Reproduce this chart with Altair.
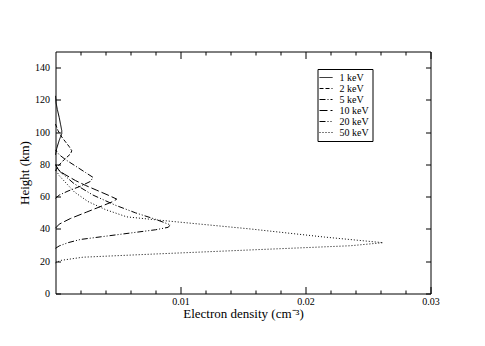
import altair as alt
import pandas as pd

series = ["1 keV", "2 keV", "5 keV", "10 keV", "20 keV", "50 keV"]
dashes = [[1, 0], [4, 2], [6, 2, 1, 2], [8, 3], [6, 2, 1, 2, 1, 2], [1, 2]]

dens_1 = [0, 0.0001, 0.0003, 0.0005, 0.0005, 0.0004, 0.0003, 0.00015, 0.00005, 0]
hgt_1 = [86, 90, 95, 99, 101, 105, 109, 114, 118, 122.5]

dens_2 = [0, 0.0002, 0.0007, 0.0012, 0.0013, 0.0011, 0.0008, 0.0005, 0.0002, 0]
hgt_2 = [76, 79, 83, 86.5, 88.5, 91, 94, 97, 101, 105]

dens_5 = [0, 0.0003, 0.0010, 0.0020, 0.0028, 0.0030, 0.0024, 0.0016, 0.0008, 0.0003, 0]
hgt_5 = [59, 61, 63.5, 66.5, 69.5, 72, 75, 79, 83, 86, 89]

dens_10 = [0, 0.0003, 0.0012, 0.0025, 0.0038, 0.0046, 0.0049, 0.0042, 0.0033, 0.0024, 0.0016, 0.0007, 0.0002, 0]
hgt_10 = [40.5, 43, 46.5, 50.5, 54.5, 57, 58.5, 61, 64, 67, 70, 74, 77, 80]

dens_20 = [0, 0.0003, 0.0010, 0.0020, 0.0040, 0.0060, 0.0080, 0.0090, 0.0092,
           0.0080, 0.0064, 0.0048, 0.0030, 0.0015, 0.0003, 0]
hgt_20 = [28, 29.5, 31.5, 33.5, 35.5, 37.5, 39.5, 41, 42.5,
          46, 50, 54.7, 61, 68, 76, 80]

dens_50 = [0, 0.0004, 0.0022, 0.0080, 0.0156, 0.0236, 0.0262,
           0.0215, 0.0156, 0.0089, 0.0057, 0.0040, 0.0026, 0.0015, 0.0009, 0.0003, 0]
hgt_50 = [19, 20.5, 22.5, 24.5, 27, 29.6, 31.5,
          35, 40, 45, 47.5, 52, 57, 63, 68, 73, 77]

x_labels = [0.01, 0.02, 0.03]
x_minor = [0.002, 0.004, 0.006, 0.008, 0.012, 0.014, 0.016, 0.018,
           0.022, 0.024, 0.026, 0.028]
y_ticks = [0, 20, 40, 60, 80, 100, 120, 140]

rows = []
for name, d, h in zip(series,
                      [dens_1, dens_2, dens_5, dens_10, dens_20, dens_50],
                      [hgt_1, hgt_2, hgt_5, hgt_10, hgt_20, hgt_50]):
    for i, (a, b) in enumerate(zip(d, h)):
        rows.append({"series": name, "density": a, "height": b, "i": i})
df = pd.DataFrame(rows)

W, H = 375, 242
FONT = "Liberation Serif"

xs = alt.Scale(domain=[0, 0.03], nice=False, zero=False)
ys = alt.Scale(domain=[0, 150], nice=False, zero=False)

base = alt.Chart(df)

lines = base.mark_line(color="black", strokeWidth=1).encode(
    x=alt.X("density:Q", scale=xs,
            axis=alt.Axis(values=x_labels, format="~g", ticks=False, domain=False,
                          grid=False, labelPadding=3, labelFlush=False,
                          title="Electron density (cm⁻³)", titlePadding=1)),
    y=alt.Y("height:Q", scale=ys,
            axis=alt.Axis(values=y_ticks, ticks=False, domain=False, grid=False,
                          labelPadding=6, title="Height (km)", titlePadding=3)),
    strokeDash=alt.StrokeDash("series:N",
                              scale=alt.Scale(domain=series, range=dashes),
                              legend=alt.Legend(title=None)),
    order=alt.Order("i:Q"),
)


def tick_layer(x_axis, y_axis):
    return base.mark_point(opacity=0).encode(
        x=alt.X("density:Q", scale=xs, axis=x_axis),
        y=alt.Y("height:Q", scale=ys, axis=y_axis),
    )


def xa(orient, vals, size):
    return alt.Axis(orient=orient, offset=-H, values=vals, tickSize=size, labels=False,
                    domain=False, grid=False, title=None, tickColor="black")


def ya(orient):
    return alt.Axis(orient=orient, offset=-W, values=y_ticks, tickSize=5, labels=False,
                    domain=False, grid=False, title=None, tickColor="black")


l2 = tick_layer(xa("top", x_labels, 7), ya("right"))
l3 = tick_layer(xa("top", x_minor, 3.5), ya("left"))
l4 = tick_layer(xa("bottom", x_labels, 7), None)
l5 = tick_layer(xa("bottom", x_minor, 3.5), None)

chart = alt.layer(lines, l2, l3, l4, l5).resolve_axis(
    x="independent", y="independent"
).properties(
    width=W, height=H,
    autosize=alt.AutoSizeParams(type="none"),
    padding={"left": 47.5, "top": 43.5, "right": 30, "bottom": 30},
).configure_view(
    stroke="black", strokeWidth=1
).configure_axis(
    labelFont=FONT, labelFontSize=10, labelColor="black",
    titleFont=FONT, titleFontSize=13, titleFontWeight="normal", titleColor="black",
    tickColor="black",
).configure_legend(
    orient="none", legendX=262, legendY=17.5,
    strokeColor="black", padding=3, rowPadding=0,
    labelFont=FONT, labelFontSize=10, labelColor="black", labelOffset=8,
    symbolType="M-1.3,0H1.3", symbolSize=100, symbolStrokeWidth=1,
    symbolStrokeColor="black",
)

chart.save("out.html", embed_options={"renderer": "svg", "actions": False})
